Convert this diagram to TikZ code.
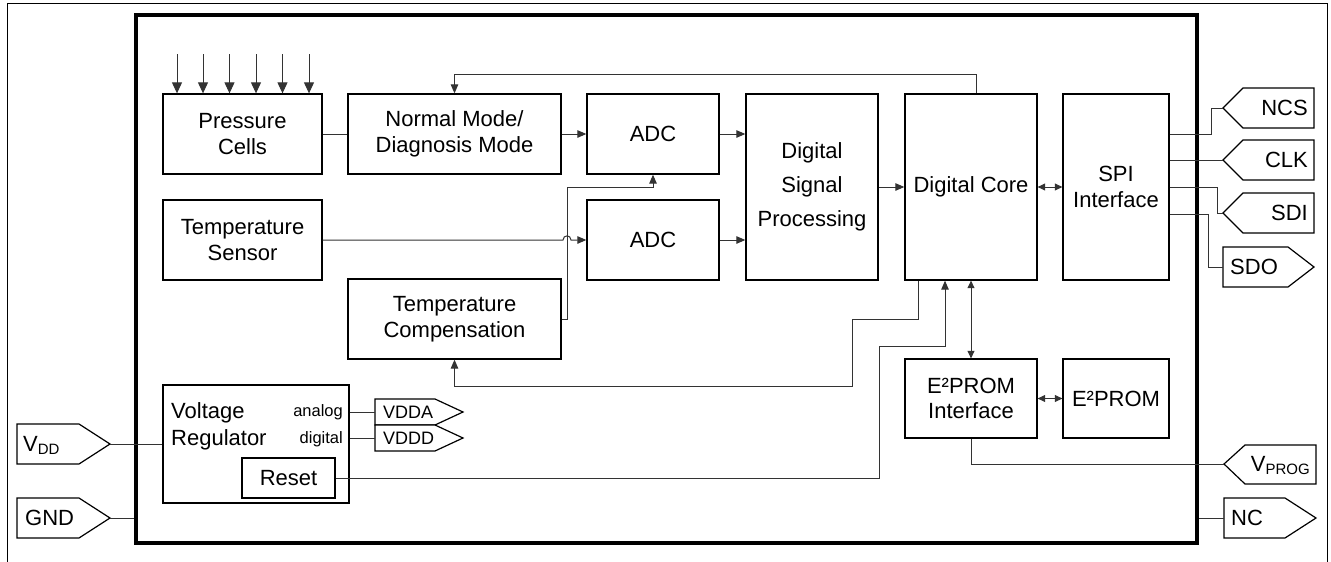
\documentclass[tikz,border=0pt]{standalone}
\usepackage{fontspec}
\setmainfont{Liberation Sans}
\usetikzlibrary{arrows.meta}
\newcommand\pinsub[1]{\raisebox{-3pt}{\fontsize{15}{15}\selectfont #1}}
\begin{document}
\begin{tikzpicture}[x=1pt,y=-1pt,
  blk/.style={draw=black, line width=1.3pt, inner sep=0pt, align=center,
    font=\fontsize{22}{25.5}\selectfont},
  con/.style={line width=1pt, draw=black!80},
  arr/.style={con, -{Triangle[length=9pt,width=7.5pt]}},
  darr/.style={con, {Triangle[length=7.5pt,width=7pt]}-{Triangle[length=7.5pt,width=7pt]}},
  parr/.style={con, -{Triangle[length=11pt,width=10pt]}},
  pin/.style={draw=black, line width=1.2pt, fill=white},
  pintext/.style={inner sep=0pt, font=\fontsize{22}{22}\selectfont, text height=15.8pt, text depth=0pt},
  smalltext/.style={inner sep=0pt, font=\fontsize{16.5}{16.5}\selectfont},
  vtext/.style={inner sep=0pt, font=\fontsize{18}{18}\selectfont, text height=13pt, text depth=0pt}
]
\useasboundingbox (0,0) rectangle (1331,562);
% outer thin frame
\draw[line width=1pt] (7,562) -- (7,3) -- (1327,3) -- (1327,562);
% chip frame
\node[draw=black, line width=3.5pt, minimum width=1061pt, minimum height=528pt, inner sep=0pt] (chip) at (666.5,279) {};

% blocks
\node[blk, minimum width=159pt, minimum height=80pt] (pc) at (242.5,134) {Pressure\\Cells};
\node[blk, minimum width=213pt, minimum height=80pt] (nm) at (454.5,134) {Normal Mode/\\Diagnosis Mode};
\node[blk, minimum width=132pt, minimum height=80pt] (adc1) at (653,134) {ADC};
\node[blk, minimum width=132pt, minimum height=80pt] (adc2) at (653,240) {ADC};
\node[blk, minimum width=132pt, minimum height=186pt, font=\fontsize{22}{34}\selectfont] (dsp) at (812,187) {Digital\\Signal\\Processing};
\node[blk, minimum width=132pt, minimum height=186pt] (dc) at (971,187) {Digital Core};
\node[blk, minimum width=106pt, minimum height=186pt] (spi) at (1116,187) {SPI\\Interface};
\node[blk, minimum width=159pt, minimum height=80pt] (ts) at (242.5,240) {Temperature\\Sensor};
\node[blk, minimum width=213pt, minimum height=80pt] (tc) at (454.5,319) {Temperature\\Compensation};
\node[blk, minimum width=186pt, minimum height=118pt] (vr) at (256,444) {};
\node[blk, minimum width=93pt, minimum height=40pt] (reset) at (288.5,478) {Reset};
\node[blk, minimum width=132pt, minimum height=79pt] (e2if) at (971,398.5) {E²PROM\\Interface};
\node[blk, minimum width=106pt, minimum height=79pt] (e2) at (1116,398.5) {E²PROM};

\node[anchor=base west, inner sep=0pt, font=\fontsize{22}{22}\selectfont] (vrt1) at (171,418) {Voltage};
\node[anchor=base west, inner sep=0pt, font=\fontsize{22}{22}\selectfont] (vrt2) at (171,445) {Regulator};
\node[smalltext, anchor=base east] (an) at (343,416) {analog};
\node[smalltext, anchor=base east] (dg) at (343,443) {digital};

% pressure arrows
\foreach \x [count=\i] in {177,203,229.5,256,282.5,309} {
  \coordinate (ptop\i) at (\x,54);
  \draw[parr] (ptop\i) -- (ptop\i |- pc.north);
}

% signal chain
\draw[con] (pc.east) -- (nm.west);
\draw[arr] (nm.east) -- (adc1.west);
\draw[arr] (adc1.east) -- (adc1.east -| dsp.west);
\draw[arr] (adc2.east) -- (adc2.east -| dsp.west);
\draw[arr] (dsp.east) -- (dc.west);
\draw[darr] (dc.east) -- (spi.west);
\draw[arr] ([xshift=5pt]dc.north) -- ++(0,-19) -| (nm.north);

% temperature paths
\coordinate (vx) at (567,187);
\coordinate (hopL) at (563,240);
\coordinate (hopR) at (571,240);
\draw[arr] (ts.east) -- (hopL) .. controls (563,234.5) and (571,234.5) .. (hopR) -- (adc2.west);
\draw[arr] (tc.east) -| (vx) -| (adc1.south);

\coordinate (k1) at (852,319);
\coordinate (k2) at (852,386);
\draw[arr] ([xshift=-53pt]dc.south) |- (k1) -- (k2) -| (tc.south);
\coordinate (k3) at (879,346);
\draw[arr] (reset.east) -| (k3) -| ([xshift=-26pt]dc.south);

% EEPROM
\draw[darr] (dc.south) -- (e2if.north);
\draw[darr] (e2if.east) -- (e2.west);

% pins right
\draw[pin] (1223,108) -- (1243,88) -- (1314,88) -- (1314,128) -- (1243,128) -- cycle;
\coordinate (ncstip) at (1223,108);
\node[pintext, anchor=east] (ncsl) at (1308,108) {NCS};
\draw[pin] (1223,160) -- (1243,140) -- (1314,140) -- (1314,180) -- (1243,180) -- cycle;
\coordinate (clktip) at (1223,160);
\node[pintext, anchor=east] (clkl) at (1308,160) {CLK};
\draw[pin] (1223,213) -- (1243,193) -- (1314,193) -- (1314,233) -- (1243,233) -- cycle;
\coordinate (sditip) at (1223,213);
\node[pintext, anchor=east] (sdil) at (1308,213) {SDI};
\draw[pin] (1223,247) -- (1288,247) -- (1314,267) -- (1288,287) -- (1223,287) -- cycle;
\coordinate (sdotail) at (1223,267);
\node[pintext, anchor=west] (sdol) at (1230,267) {SDO};
\draw[pin] (1224,464) -- (1245,445) -- (1316,445) -- (1316,484) -- (1245,484) -- cycle;
\coordinate (vprogtip) at (1224,464);
\node[pintext, anchor=east] (vprogl) at (1310,464) {V\pinsub{PROG}};
\draw[pin] (1224,498) -- (1285,498) -- (1316,518) -- (1285,538) -- (1224,538) -- cycle;
\coordinate (nctail) at (1224,518);
\node[pintext, anchor=west] (ncl) at (1231,518) {NC};

\coordinate (ncsk) at (1211,108);
\coordinate (sdik) at (1217,213);
\coordinate (sdok) at (1208,267);
\draw[con] ([yshift=53pt]spi.east) -| (ncsk) -- (ncstip);
\draw[con] ([yshift=27pt]spi.east) -- (clktip);
\draw[con] (spi.east) -| (sdik) -- (sditip);
\draw[con] ([yshift=-27pt]spi.east) -| (sdok) -- (sdotail);
\draw[con] (e2if.south) |- (vprogtip);
\draw[con] (chip.east |- nctail) -- (nctail);

% pins left
\draw[pin] (17,424) -- (79,424) -- (110,444) -- (79,464) -- (17,464) -- cycle;
\coordinate (vddtip) at (110,444);
\node[pintext, anchor=west] (vddl) at (23,444) {V\pinsub{DD}};
\draw[pin] (17,498) -- (79,498) -- (110,518) -- (79,538) -- (17,538) -- cycle;
\coordinate (gndtip) at (110,518);
\node[pintext, anchor=west] (gndl) at (25,518) {GND};
\draw[con] (vddtip) -- (vddtip -| vr.west);
\draw[con] (gndtip) -- (gndtip -| chip.west);

% VDDA / VDDD
\draw[pin] (375,399) -- (435,399) -- (463,412) -- (435,425) -- (375,425) -- cycle;
\coordinate (vdda0) at (375,412);
\node[vtext, anchor=west] (vddal) at (383,412) {VDDA};
\draw[pin] (375,425) -- (435,425) -- (463,438) -- (435,451) -- (375,451) -- cycle;
\coordinate (vddd0) at (375,438);
\node[vtext, anchor=west] (vdddl) at (383,438) {VDDD};
\draw[con] (vr.east |- vdda0) -- (vdda0);
\draw[con] (vr.east |- vddd0) -- (vddd0);
\end{tikzpicture}
\end{document}
